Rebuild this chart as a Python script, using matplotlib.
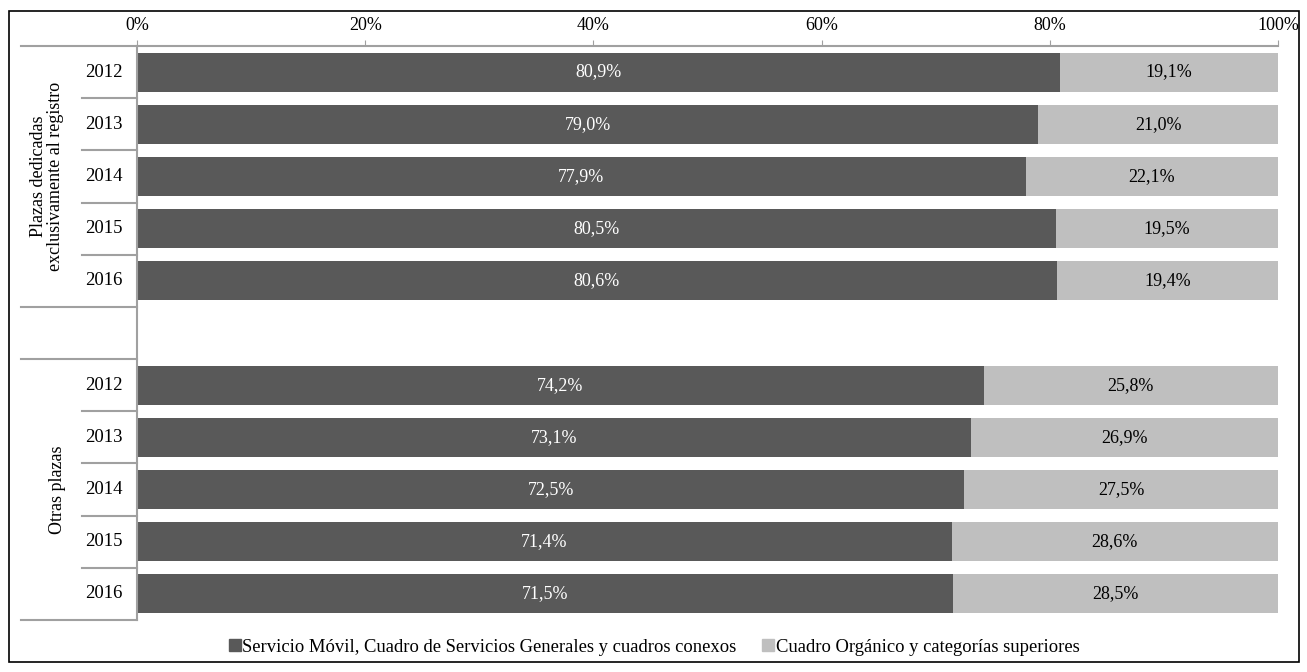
import matplotlib
matplotlib.use("Agg")
import matplotlib.pyplot as plt
from matplotlib.lines import Line2D
from matplotlib.patches import Rectangle
from matplotlib.ticker import PercentFormatter

plt.rcParams["font.family"] = ["Liberation Serif", "DejaVu Serif"]
plt.rcParams["font.size"] = 13

groups = ["Plazas dedicadas\nexclusivamente al registro", "Otras plazas"]
years = ["2012", "2013", "2014", "2015", "2016"]
servicio_movil = [[80.9, 79.0, 77.9, 80.5, 80.6], [74.2, 73.1, 72.5, 71.4, 71.5]]
cuadro_organico = [[19.1, 21.0, 22.1, 19.5, 19.4], [25.8, 26.9, 27.5, 28.6, 28.5]]
series_names = [
    "Servicio Móvil, Cuadro de Servicios Generales y cuadros conexos",
    "Cuadro Orgánico y categorías superiores",
]

DARK = "#595959"
LIGHT = "#bfbfbf"
AXIS_GRAY = "#a0a0a0"

W, H = 1307, 672
fig = plt.figure(figsize=(W / 100, H / 100), dpi=100)
ax = fig.add_axes([137 / W, 1 - 620 / H, (1278 - 137) / W, (620 - 46) / H])


def pct(v):
    return f"{v:.1f}%".replace(".", ",")


# one empty slot between the two groups
slot = 0
boundaries = [-0.5]
for g, name in enumerate(groups):
    start = slot
    for i, yr in enumerate(years):
        a, b = servicio_movil[g][i], cuadro_organico[g][i]
        ax.barh(slot, a, height=0.75, color=DARK)
        ax.barh(slot, b, left=a, height=0.75, color=LIGHT)
        ax.text(a / 2, slot, pct(a), ha="center", va="center", color="white")
        ax.text(a + b / 2, slot, pct(b), ha="center", va="center", color="black")
        ax.text(-0.013, slot, yr, transform=ax.get_yaxis_transform(),
                ha="right", va="center", fontsize=13.5)
        if i < len(years) - 1:
            ax.plot([-0.0482, 0], [slot + 0.5] * 2, transform=ax.get_yaxis_transform(),
                    color=AXIS_GRAY, lw=1.5, clip_on=False)
        slot += 1
    mid = (start + slot - 1) / 2
    xg = -0.079 if g == 0 else -0.070
    ax.text(xg, mid, name, transform=ax.get_yaxis_transform(), rotation=90,
            ha="center", va="center", multialignment="center", linespacing=1.0)
    boundaries.append(slot - 0.5)
    if g == 0:
        slot += 1
        boundaries.append(slot - 0.5)

for yb in boundaries:
    ax.plot([-0.1017, 0], [yb, yb], transform=ax.get_yaxis_transform(),
            color=AXIS_GRAY, lw=1.5, clip_on=False)

ax.set_xlim(0, 100)
ax.set_ylim(slot - 0.5, -0.5)
ax.xaxis.tick_top()
ax.xaxis.set_major_formatter(PercentFormatter(decimals=0))
ax.set_xticks(range(0, 101, 20))
ax.tick_params(axis="x", length=4, color=AXIS_GRAY, pad=5)
ax.set_yticks([])
for side in ["right", "bottom"]:
    ax.spines[side].set_visible(False)
for side in ["left", "top"]:
    ax.spines[side].set_color(AXIS_GRAY)
    ax.spines[side].set_linewidth(1.5)

handles = [Line2D([], [], marker="s", ls="", markersize=8, color=c) for c in (DARK, LIGHT)]
fig.legend(handles, series_names, loc="center", bbox_to_anchor=(0.5, 1 - 647 / H),
           ncol=2, frameon=False, handletextpad=0.0, columnspacing=1.3,
           handlelength=0.8, borderpad=0, fontsize=13.4)

fig.patches.append(Rectangle((9 / W, 1 - 662 / H), (1299 - 9) / W, (662 - 11) / H,
                             transform=fig.transFigure, fill=False,
                             edgecolor="black", lw=1.2))

fig.savefig("out.png", dpi=100)
